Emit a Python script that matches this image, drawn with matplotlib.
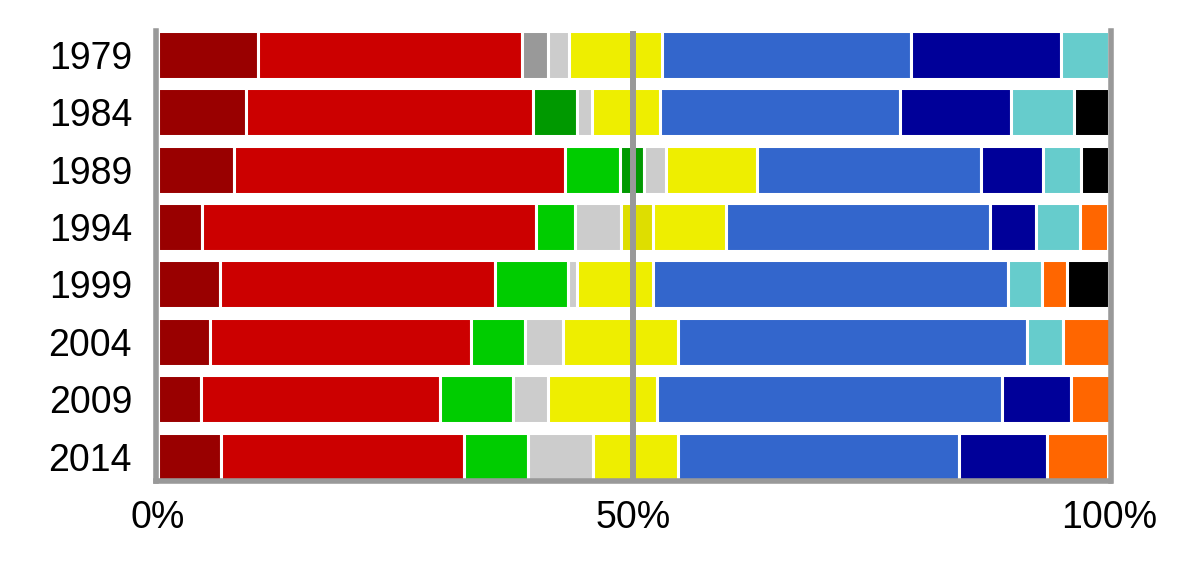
import matplotlib
matplotlib.use("Agg")
import matplotlib.pyplot as plt
import numpy as np

years = ["1979", "1984", "1989", "1994", "1999", "2004", "2009", "2014"]

# share of vote per party (%), one value per year, 0 = not standing
darkred    = [10.6, 9.25, 8.0, 4.7, 6.6, 5.5, 4.6, 6.7]
red        = [27.7, 30.2, 34.8, 35.05, 28.9, 27.4, 25.1, 25.5]
gray       = [2.7, 0, 0, 0, 0, 0, 0, 0]
green      = [0, 0, 5.8, 4.15, 7.6, 5.7, 7.6, 6.7]
darkgreen  = [0, 4.6, 2.5, 0, 0, 0, 0, 0]
lightgray  = [2.2, 1.6, 2.3, 4.8, 1.0, 4.0, 3.7, 6.9]
darkyellow = [0, 0, 0, 3.4, 0, 0, 0, 0]
yellow     = [9.8, 7.1, 9.6, 7.6, 8.0, 12.1, 11.5, 8.9]
blue       = [26.2, 25.3, 23.5, 27.8, 37.3, 36.7, 36.2, 29.5]
navy       = [15.7, 11.6, 6.6, 4.8, 0, 0, 7.25, 9.3]
cyan       = [5.1, 6.7, 3.9, 4.6, 3.6, 3.8, 0, 0]
orange     = [0, 0, 0, 3.0, 2.6, 4.9, 4.15, 6.4]
black      = [0, 3.6, 3.0, 0, 4.4, 0, 0, 0]

series = [
    (darkred, "#990000"),
    (red, "#cc0000"),
    (gray, "#999999"),
    (green, "#00cc00"),
    (darkgreen, "#009900"),
    (lightgray, "#cccccc"),
    (darkyellow, "#dede00"),
    (yellow, "#eeee00"),
    (blue, "#3366cc"),
    (navy, "#000099"),
    (cyan, "#66cccc"),
    (orange, "#ff6600"),
    (black, "#000000"),
]

xticks = [0, 50, 100]
xticklabels = ["0%", "50%", "100%"]

plt.rcParams["font.family"] = ["Liberation Sans", "DejaVu Sans"]

fig = plt.figure(figsize=(12, 5.7), dpi=100)
ax = fig.add_axes([155.7 / 1200, 0.157, (1110.5 - 155.7) / 1200, 0.7886])

y = np.arange(len(years))
left = np.zeros(len(years))
for vals, col in series:
    vals = np.array(vals, dtype=float)
    lw = np.where(vals > 0, 2.2, 0)
    ax.barh(y, vals, left=left, height=0.837, color=col,
            edgecolor="white", linewidth=lw)
    left += vals

ax.set_xlim(-0.2, 100.15)
ax.set_ylim(7.418, -0.418)

ax.axvline(50, color="#999999", linewidth=4.3, zorder=3)

for s in ["left", "right", "bottom"]:
    ax.spines[s].set_color("#999999")
    ax.spines[s].set_linewidth(4.0)
    ax.spines[s].set_zorder(4)
ax.spines["top"].set_visible(False)

ax.set_yticks(y)
ax.set_yticklabels(years)
ax.set_xticks(xticks)
ax.set_xticklabels(xticklabels)
ax.tick_params(axis="both", length=0, labelsize=27)
ax.tick_params(axis="y", pad=17)
ax.tick_params(axis="x", pad=14)

fig.savefig("out.png", dpi=100, facecolor="white")
